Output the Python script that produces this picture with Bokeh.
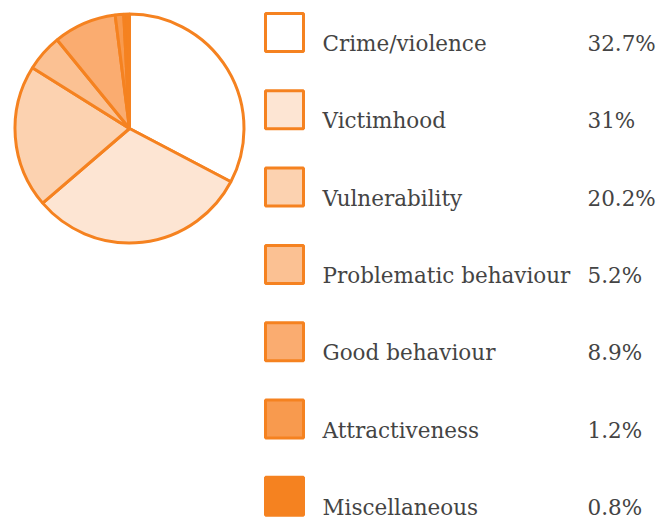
import numpy as np
from bokeh.plotting import figure
from bokeh.models import Range1d, ColumnDataSource
from bokeh.core.properties import value
from bokeh.embed import file_html
from bokeh.resources import INLINE

categories = ["Crime/violence", "Victimhood", "Vulnerability", "Problematic behaviour",
              "Good behaviour", "Attractiveness", "Miscellaneous"]
shares = [32.7, 31.0, 20.2, 5.2, 8.9, 1.2, 0.8]
share_labels = ["32.7%", "31%", "20.2%", "5.2%", "8.9%", "1.2%", "0.8%"]
fill_colors = ["#FFFFFF", "#FDE5D3", "#FCD2B0", "#FBC193", "#FAAC70", "#F89A4E", "#F58220"]

W, H = 671, 521
ORANGE = "#F58220"
TEXT = "#444444"

p = figure(width=W, height=H, output_backend="svg", toolbar_location=None,
           x_range=Range1d(0, W), y_range=Range1d(0, H))
p.axis.visible = False
p.grid.visible = False
p.outline_line_color = None
p.min_border = 0
p.border_fill_color = "white"
p.background_fill_color = "white"

# pie
vals = np.array(shares)
frac = vals / vals.sum()
cum_end = np.cumsum(frac)
cum_start = cum_end - frac
start = np.pi / 2 - cum_start * 2 * np.pi
end = np.pi / 2 - cum_end * 2 * np.pi
cx, cy, r = 129, H - 128, 114.5
pie = ColumnDataSource(dict(start=start, end=end, color=fill_colors))
p.wedge(x=cx, y=cy, radius=r, start_angle="start", end_angle="end", direction="clock",
        fill_color="color", line_color=ORANGE, line_width=3, source=pie)

# legend
n = len(categories)
top0, step, box = 13, 77.3, 38
tops = [top0 + i * step for i in range(n)]
box_x = [265 + box / 2] * n
box_y = [H - (t + box / 2) for t in tops]
leg = ColumnDataSource(dict(x=box_x, y=box_y, color=fill_colors,
                            lx=[322] * n, px=[587] * n,
                            ty=[H - (t + box / 2 + 11) for t in tops],
                            name=categories, pct=share_labels))
p.rect(x="x", y="y", width=box, height=box, fill_color="color", line_color=ORANGE,
       line_width=3, source=leg)
p.text(x="lx", y="ty", text="name", text_font=value("DejaVu Serif"), text_font_size="21.5px",
       text_color=TEXT, text_baseline="middle", text_align="left", source=leg)
p.text(x="px", y="ty", text="pct", text_font=value("DejaVu Serif"), text_font_size="21.5px",
       text_color=TEXT, text_baseline="middle", text_align="left", source=leg)

open("out.html", "w").write(file_html(p, INLINE))
